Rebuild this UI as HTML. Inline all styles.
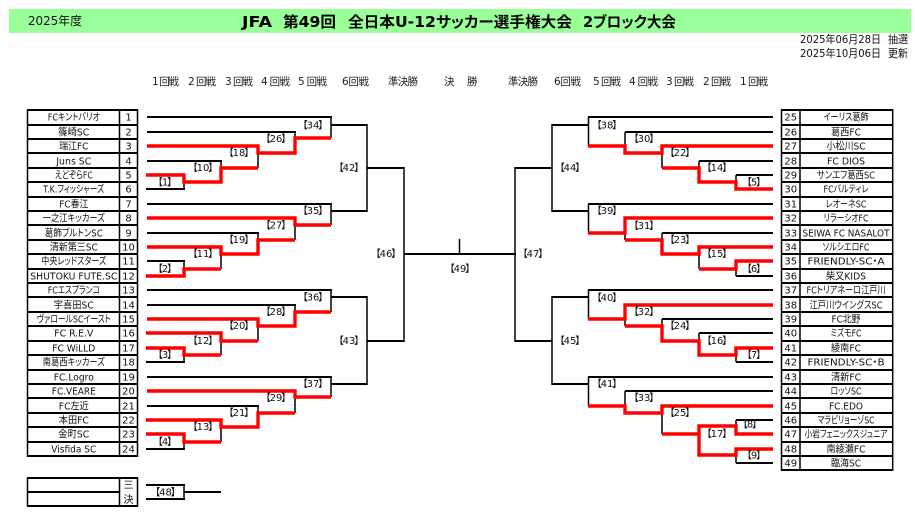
<!DOCTYPE html>
<html lang="ja"><head><meta charset="utf-8"><title>JFA 第49回 全日本U-12サッカー選手権大会 2ブロック大会</title>
<style>
html,body{margin:0;padding:0;background:#fff;width:915px;height:513px;overflow:hidden}
svg{display:block;font-family:"DejaVu Sans","Noto Sans CJK JP",sans-serif;font-size:10px;font-feature-settings:"palt";fill:#111}
.m{text-anchor:middle}
.h{font-size:10.5px;fill:#222}
</style></head><body>
<svg width="915" height="513" viewBox="0 0 915 513" xmlns="http://www.w3.org/2000/svg">
<rect x="9" y="9" width="902" height="24" fill="#99ff99"/>
<text x="28" y="25" font-size="12" textLength="54" lengthAdjust="spacingAndGlyphs">2025年度</text>
<g font-size="15" font-weight="bold" fill="#000">
<text x="242" y="27" textLength="30" lengthAdjust="spacingAndGlyphs">JFA</text>
<text x="283" y="27" textLength="53" lengthAdjust="spacingAndGlyphs">第49回</text>
<text x="348" y="27" textLength="224" lengthAdjust="spacingAndGlyphs">全日本U-12サッカー選手権大会</text>
<text x="583" y="27" textLength="93" lengthAdjust="spacingAndGlyphs">2ブロック大会</text>
</g>
<g font-size="11">
<text x="800" y="43" textLength="81" lengthAdjust="spacingAndGlyphs">2025年06月28日</text>
<text x="888" y="43" textLength="20" lengthAdjust="spacingAndGlyphs">抽選</text>
<text x="800" y="57" textLength="81" lengthAdjust="spacingAndGlyphs">2025年10月06日</text>
<text x="888" y="57" textLength="20" lengthAdjust="spacingAndGlyphs">更新</text>
</g>

<g class="h">
<text x="152" y="85" class="h" textLength="27">1 回戦</text>
<text x="188" y="85" class="h" textLength="28">2 回戦</text>
<text x="225" y="85" class="h" textLength="28">3 回戦</text>
<text x="261" y="85" class="h" textLength="29">4 回戦</text>
<text x="298" y="85" class="h" textLength="29">5 回戦</text>
<text x="342" y="85" class="h" textLength="27">6回戦</text>
<text x="388" y="85" class="h" textLength="30">準決勝</text>
<text x="444" y="85" class="h">決</text>
<text x="467" y="85" class="h">勝</text>
<text x="508" y="85" class="h" textLength="30">準決勝</text>
<text x="554" y="85" class="h" textLength="27">6回戦</text>
<text x="593" y="85" class="h" textLength="28">5 回戦</text>
<text x="629" y="85" class="h" textLength="29">4 回戦</text>
<text x="666" y="85" class="h" textLength="28">3 回戦</text>
<text x="703" y="85" class="h" textLength="28">2 回戦</text>
<text x="740" y="85" class="h" textLength="28">1 回戦</text>
</g>

<!-- tables -->
<g fill="none" stroke="#000" stroke-width="2">
<path d="M27.5 110H137.5M27.5 125H137.5M27.5 139H137.5M27.5 153H137.5M27.5 168H137.5M27.5 182H137.5M27.5 197H137.5M27.5 211H137.5M27.5 225H137.5M27.5 240H137.5M27.5 254H137.5M27.5 269H137.5M27.5 283H137.5M27.5 297H137.5M27.5 312H137.5M27.5 326H137.5M27.5 341H137.5M27.5 355H137.5M27.5 370H137.5M27.5 384H137.5M27.5 398H137.5M27.5 413H137.5M27.5 427H137.5M27.5 442H137.5M27.5 456H137.5"/>
<path d="M781.5 110H893M781.5 125H893M781.5 139H893M781.5 153H893M781.5 168H893M781.5 182H893M781.5 197H893M781.5 211H893M781.5 225H893M781.5 240H893M781.5 254H893M781.5 269H893M781.5 283H893M781.5 297H893M781.5 312H893M781.5 326H893M781.5 341H893M781.5 355H893M781.5 370H893M781.5 384H893M781.5 398H893M781.5 413H893M781.5 427H893M781.5 442H893M781.5 456H893M781.5 470H893"/>
<path d="M27.5 478H137.5M27.5 492H119.5M27.5 506H137.5"/>
</g>
<g fill="none" stroke="#000" stroke-width="1.5">
<path d="M27.5 109V457M119.5 109V457M137.5 109V457"/>
<path d="M781.5 109V471M800 109V471M892.7 109V471"/>
<path d="M27.5 477V507M119.5 477V507M137.5 477V507"/>
</g>

<!-- bracket black horizontals -->
<g fill="none" stroke="#000" stroke-width="2">
<path d="M147 117H332M147 132H296M147 161H222M146 189H185M147 204H332M147 233H259M147 261H185M147 290H332M147 305H296M146 362H185M147 377H332M147 406H259M146 449H185"/>
<path d="M331 125H367M331 211H367M331 297H367M331 384H367M367 168H404M367 341H404M404 254H516"/>
<path d="M588 117H773M625 132H773M699 161H773M736 175H773M588 204H773M662 233H773M736 276H773M588 290H773M662 319H773M699 333H773M736 362H773M588 377H773M625 391H773M736 420H773M736 463H773"/>
<path d="M552 125H588M552 211H588M552 297H588M552 384H588M515 168H552M515 341H552"/>
<path d="M146 485H185M146 499H185M184 492H221"/>
</g>
<!-- bracket black verticals -->
<g fill="none" stroke="#000" stroke-width="1.5">
<path d="M331 117V138M331 204V225M331 290V312M331 377V397"/>
<path d="M295 132V138M295 225V240M295 305V312M295 397V413"/>
<path d="M258 153V168M258 233V240M258 326V341M258 406V413"/>
<path d="M221 161V168M221 254V269M221 341V355M221 427V442"/>
<path d="M184 182V189M184 261V269M184 355V362M184 442V449M184 484V500"/>
<path d="M367 124V212M367 296V385M404 167V342M459.5 239V254M515 167V342M552 124V212M552 296V385"/>
<path d="M588.5 117V146M588.5 204V233M588.5 290V319M588.5 377V406"/>
<path d="M625 132V146M625 233V240M625 319V326M625 391V406"/>
<path d="M662 153V168M662 233V240M662 319V326M662 413V434"/>
<path d="M699 161V168M699 254V269M699 333V341"/>
<path d="M736 175V182M736 269V276M736 355V362M736 420V426M736 455V463"/>
</g>
<!-- red -->
<g fill="none" stroke="#ff0000" stroke-width="3.4">
<path d="M147 146H258V153H295V138H331"/>
<path d="M146 175H184V182H221V168H258"/>
<path d="M147 218H295V225H331"/>
<path d="M147 247H221V254H258V240H295"/>
<path d="M146 276H184V269H221"/>
<path d="M147 319H258V326H295V312H331"/>
<path d="M146 333H221V341H258"/>
<path d="M146 348H184V355H221"/>
<path d="M147 391H295V397H331"/>
<path d="M146 420H221V427H258V413H295"/>
<path d="M146 434H184V442H221"/>
<path d="M588 146H625V153H662V146H773"/>
<path d="M662 168H699V182H736V189H773"/>
<path d="M588 233H625V218H773"/>
<path d="M625 240H662V254H699V247H773"/>
<path d="M699 269H736V261H773"/>
<path d="M588 319H625V305H773"/>
<path d="M625 326H662V341H699V355H736V348H773"/>
<path d="M588 406H625V413H662V406H773"/>
<path d="M662 434H699V426H736V434H773"/>
<path d="M699 434V455H736V449H773"/>
</g>

<!-- left names -->
<g class="m">
<text x="73.8" y="120.5" textLength="52" lengthAdjust="spacingAndGlyphs">FCキントバリオ</text>
<text x="73.8" y="135.5" textLength="31" lengthAdjust="spacingAndGlyphs">篠崎SC</text>
<text x="73.8" y="149.5" textLength="29" lengthAdjust="spacingAndGlyphs">瑞江FC</text>
<text x="73.8" y="164.5" textLength="35" lengthAdjust="spacingAndGlyphs">Juns SC</text>
<text x="73.8" y="178.5" textLength="38" lengthAdjust="spacingAndGlyphs">えどぞらFC</text>
<text x="73.8" y="192.5" textLength="61" lengthAdjust="spacingAndGlyphs">T.K.フィッシャーズ</text>
<text x="73.8" y="207.5" textLength="29" lengthAdjust="spacingAndGlyphs">FC春江</text>
<text x="73.8" y="221.5" textLength="62" lengthAdjust="spacingAndGlyphs">一之江キッカーズ</text>
<text x="73.8" y="236.5" textLength="58" lengthAdjust="spacingAndGlyphs">葛飾ブルトンSC</text>
<text x="73.8" y="250.5" textLength="48" lengthAdjust="spacingAndGlyphs">清新第三SC</text>
<text x="73.8" y="264.5" textLength="65" lengthAdjust="spacingAndGlyphs">中央レッドスターズ</text>
<text x="73.8" y="279.5" textLength="87" lengthAdjust="spacingAndGlyphs">SHUTOKU FUTE.SC</text>
<text x="73.8" y="293.5" textLength="52" lengthAdjust="spacingAndGlyphs">FCエスプランコ</text>
<text x="73.8" y="308.5" textLength="40" lengthAdjust="spacingAndGlyphs">宇喜田SC</text>
<text x="73.8" y="322.5" textLength="74" lengthAdjust="spacingAndGlyphs">ヴァロールSCイースト</text>
<text x="73.8" y="336.5" textLength="39" lengthAdjust="spacingAndGlyphs">FC R.E.V</text>
<text x="73.8" y="351.5" textLength="43" lengthAdjust="spacingAndGlyphs">FC WiLLD</text>
<text x="73.8" y="365.5" textLength="62" lengthAdjust="spacingAndGlyphs">南葛西キッカーズ</text>
<text x="73.8" y="380.5" textLength="40" lengthAdjust="spacingAndGlyphs">FC.Logro</text>
<text x="73.8" y="394.5" textLength="44" lengthAdjust="spacingAndGlyphs">FC.VEARE</text>
<text x="73.8" y="409.5" textLength="30" lengthAdjust="spacingAndGlyphs">FC左近</text>
<text x="73.8" y="423.5" textLength="30" lengthAdjust="spacingAndGlyphs">本田FC</text>
<text x="73.8" y="437.5" textLength="31" lengthAdjust="spacingAndGlyphs">金町SC</text>
<text x="73.8" y="452.5" textLength="45" lengthAdjust="spacingAndGlyphs">Visfida SC</text>
</g>
<!-- left numbers -->
<g class="m">
<text x="128.5" y="120.5">1</text><text x="128.5" y="135.5">2</text><text x="128.5" y="149.5">3</text><text x="128.5" y="164.5">4</text><text x="128.5" y="178.5">5</text><text x="128.5" y="192.5">6</text><text x="128.5" y="207.5">7</text><text x="128.5" y="221.5">8</text><text x="128.5" y="236.5">9</text><text x="128.5" y="250.5">10</text><text x="128.5" y="264.5">11</text><text x="128.5" y="279.5">12</text><text x="128.5" y="293.5">13</text><text x="128.5" y="308.5">14</text><text x="128.5" y="322.5">15</text><text x="128.5" y="336.5">16</text><text x="128.5" y="351.5">17</text><text x="128.5" y="365.5">18</text><text x="128.5" y="380.5">19</text><text x="128.5" y="394.5">20</text><text x="128.5" y="409.5">21</text><text x="128.5" y="423.5">22</text><text x="128.5" y="437.5">23</text><text x="128.5" y="452.5">24</text>
<text x="128.5" y="488.5">三</text><text x="128.5" y="503">決</text>
</g>
<!-- right numbers -->
<g class="m">
<text x="790.7" y="120.5">25</text><text x="790.7" y="135.5">26</text><text x="790.7" y="149.5">27</text><text x="790.7" y="164.5">28</text><text x="790.7" y="178.5">29</text><text x="790.7" y="192.5">30</text><text x="790.7" y="207.5">31</text><text x="790.7" y="221.5">32</text><text x="790.7" y="236.5">33</text><text x="790.7" y="250.5">34</text><text x="790.7" y="264.5">35</text><text x="790.7" y="279.5">36</text><text x="790.7" y="293.5">37</text><text x="790.7" y="308.5">38</text><text x="790.7" y="322.5">39</text><text x="790.7" y="336.5">40</text><text x="790.7" y="351.5">41</text><text x="790.7" y="365.5">42</text><text x="790.7" y="380.5">43</text><text x="790.7" y="394.5">44</text><text x="790.7" y="409.5">45</text><text x="790.7" y="423.5">46</text><text x="790.7" y="437.5">47</text><text x="790.7" y="452.5">48</text><text x="790.7" y="466.5">49</text>
</g>
<!-- right names -->
<g class="m">
<text x="846" y="120.5" textLength="45" lengthAdjust="spacingAndGlyphs">イーリス葛飾</text>
<text x="846" y="135.5" textLength="30" lengthAdjust="spacingAndGlyphs">葛西FC</text>
<text x="846" y="149.5" textLength="39" lengthAdjust="spacingAndGlyphs">小松川SC</text>
<text x="846" y="164.5" textLength="38" lengthAdjust="spacingAndGlyphs">FC DIOS</text>
<text x="846" y="178.5" textLength="58" lengthAdjust="spacingAndGlyphs">サンエフ葛西SC</text>
<text x="846" y="192.5" textLength="45" lengthAdjust="spacingAndGlyphs">FCバルティレ</text>
<text x="846" y="207.5" textLength="41" lengthAdjust="spacingAndGlyphs">レオーネSC</text>
<text x="846" y="221.5" textLength="45" lengthAdjust="spacingAndGlyphs">リラーシオFC</text>
<text x="846" y="236.5" textLength="87" lengthAdjust="spacingAndGlyphs">SEIWA FC NASALOT</text>
<text x="846" y="250.5" textLength="47" lengthAdjust="spacingAndGlyphs">ソルシエロFC</text>
<text x="846" y="264.5" textLength="77" lengthAdjust="spacingAndGlyphs">FRIENDLY-SC・A</text>
<text x="846" y="279.5" textLength="40" lengthAdjust="spacingAndGlyphs">柴又KIDS</text>
<text x="846" y="293.5" textLength="79" lengthAdjust="spacingAndGlyphs">FCトリアネーロ江戸川</text>
<text x="846" y="308.5" textLength="73" lengthAdjust="spacingAndGlyphs">江戸川ウイングスSC</text>
<text x="846" y="322.5" textLength="29" lengthAdjust="spacingAndGlyphs">FC北野</text>
<text x="846" y="336.5" textLength="31" lengthAdjust="spacingAndGlyphs">ミズモFC</text>
<text x="846" y="351.5" textLength="30" lengthAdjust="spacingAndGlyphs">綾南FC</text>
<text x="846" y="365.5" textLength="77" lengthAdjust="spacingAndGlyphs">FRIENDLY-SC・B</text>
<text x="846" y="380.5" textLength="30" lengthAdjust="spacingAndGlyphs">清新FC</text>
<text x="846" y="394.5" textLength="31" lengthAdjust="spacingAndGlyphs">ロッソSC</text>
<text x="846" y="409.5" textLength="34" lengthAdjust="spacingAndGlyphs">FC.EDO</text>
<text x="846" y="423.5" textLength="57" lengthAdjust="spacingAndGlyphs">マラビリョーゾSC</text>
<text x="846" y="437.5" textLength="83" lengthAdjust="spacingAndGlyphs">小岩フェニックスジュニア</text>
<text x="846" y="452.5" textLength="39" lengthAdjust="spacingAndGlyphs">南綾瀬FC</text>
<text x="846" y="466.5" textLength="30" lengthAdjust="spacingAndGlyphs">臨海SC</text>
</g>
<!-- match labels -->
<g class="m">
<text x="165" y="185.5">【<tspan dx="-1">1</tspan><tspan dx="-1">】</tspan></text><text x="165" y="272">【<tspan dx="-1">2</tspan><tspan dx="-1">】</tspan></text><text x="165" y="358">【<tspan dx="-1">3</tspan><tspan dx="-1">】</tspan></text><text x="165" y="445">【<tspan dx="-1">4</tspan><tspan dx="-1">】</tspan></text><text x="165.5" y="495.5">【<tspan dx="-1">48</tspan><tspan dx="-1">】</tspan></text>
<text x="203" y="171">【<tspan dx="-1">10</tspan><tspan dx="-1">】</tspan></text><text x="203" y="257">【<tspan dx="-1">11</tspan><tspan dx="-1">】</tspan></text><text x="203" y="344">【<tspan dx="-1">12</tspan><tspan dx="-1">】</tspan></text><text x="203" y="430">【<tspan dx="-1">13</tspan><tspan dx="-1">】</tspan></text>
<text x="239" y="156">【<tspan dx="-1">18</tspan><tspan dx="-1">】</tspan></text><text x="239" y="243">【<tspan dx="-1">19</tspan><tspan dx="-1">】</tspan></text><text x="239" y="329">【<tspan dx="-1">20</tspan><tspan dx="-1">】</tspan></text><text x="239" y="416">【<tspan dx="-1">21</tspan><tspan dx="-1">】</tspan></text>
<text x="276" y="142">【<tspan dx="-1">26</tspan><tspan dx="-1">】</tspan></text><text x="276" y="228.5">【<tspan dx="-1">27</tspan><tspan dx="-1">】</tspan></text><text x="276" y="315">【<tspan dx="-1">28</tspan><tspan dx="-1">】</tspan></text><text x="276" y="401">【<tspan dx="-1">29</tspan><tspan dx="-1">】</tspan></text>
<text x="313" y="128.5">【<tspan dx="-1">34</tspan><tspan dx="-1">】</tspan></text><text x="313" y="214">【<tspan dx="-1">35</tspan><tspan dx="-1">】</tspan></text><text x="313" y="300.5">【<tspan dx="-1">36</tspan><tspan dx="-1">】</tspan></text><text x="313" y="387">【<tspan dx="-1">37</tspan><tspan dx="-1">】</tspan></text>
<text x="349" y="171">【<tspan dx="-1">42</tspan><tspan dx="-1">】</tspan></text><text x="349" y="344">【<tspan dx="-1">43</tspan><tspan dx="-1">】</tspan></text><text x="386" y="257">【<tspan dx="-1">46</tspan><tspan dx="-1">】</tspan></text><text x="460" y="272">【<tspan dx="-1">49</tspan><tspan dx="-1">】</tspan></text><text x="533" y="257">【<tspan dx="-1">47</tspan><tspan dx="-1">】</tspan></text><text x="570" y="171">【<tspan dx="-1">44</tspan><tspan dx="-1">】</tspan></text><text x="570" y="344">【<tspan dx="-1">45</tspan><tspan dx="-1">】</tspan></text>
<text x="607" y="128.5">【<tspan dx="-1">38</tspan><tspan dx="-1">】</tspan></text><text x="607" y="214">【<tspan dx="-1">39</tspan><tspan dx="-1">】</tspan></text><text x="607" y="301">【<tspan dx="-1">40</tspan><tspan dx="-1">】</tspan></text><text x="607" y="387">【<tspan dx="-1">41</tspan><tspan dx="-1">】</tspan></text>
<text x="644" y="142">【<tspan dx="-1">30</tspan><tspan dx="-1">】</tspan></text><text x="644" y="229">【<tspan dx="-1">31</tspan><tspan dx="-1">】</tspan></text><text x="644" y="315">【<tspan dx="-1">32</tspan><tspan dx="-1">】</tspan></text><text x="644" y="401">【<tspan dx="-1">33</tspan><tspan dx="-1">】</tspan></text>
<text x="680" y="156">【<tspan dx="-1">22</tspan><tspan dx="-1">】</tspan></text><text x="680" y="243">【<tspan dx="-1">23</tspan><tspan dx="-1">】</tspan></text><text x="680" y="329">【<tspan dx="-1">24</tspan><tspan dx="-1">】</tspan></text><text x="680" y="416">【<tspan dx="-1">25</tspan><tspan dx="-1">】</tspan></text>
<text x="717" y="171">【<tspan dx="-1">14</tspan><tspan dx="-1">】</tspan></text><text x="717" y="257">【<tspan dx="-1">15</tspan><tspan dx="-1">】</tspan></text><text x="717" y="344">【<tspan dx="-1">16</tspan><tspan dx="-1">】</tspan></text><text x="717" y="437">【<tspan dx="-1">17</tspan><tspan dx="-1">】</tspan></text>
<text x="754" y="185.5">【<tspan dx="-1">5</tspan><tspan dx="-1">】</tspan></text><text x="754" y="272">【<tspan dx="-1">6</tspan><tspan dx="-1">】</tspan></text><text x="754" y="358">【<tspan dx="-1">7</tspan><tspan dx="-1">】</tspan></text><text x="750" y="427.5">【<tspan dx="-1">8</tspan><tspan dx="-1">】</tspan></text><text x="754" y="458.5">【<tspan dx="-1">9</tspan><tspan dx="-1">】</tspan></text>
</g>
</svg>
</body></html>
